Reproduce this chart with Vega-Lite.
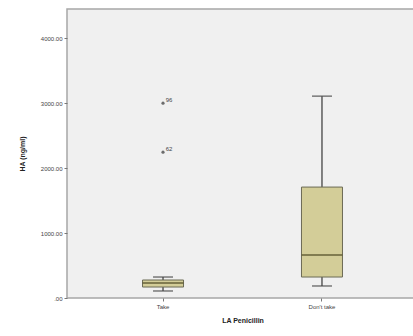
{
  "$schema": "https://vega.github.io/schema/vega-lite/v6.json",
  "autosize": "none",
  "width": 351,
  "height": 289,
  "padding": {"left": 67, "top": 9, "right": 0, "bottom": 38},
  "background": "#ffffff",
  "config": {
    "view": {"fill": "#f0f0f0", "stroke": "#a6a6a6", "strokeWidth": 1.5},
    "font": "Liberation Sans",
    "axis": {"labelFontSize": 6, "labelColor": "#444", "titleFontSize": 7, "titleFontWeight": "bold", "titleColor": "#222222", "tickColor": "#777", "tickSize": 3, "domain": false, "grid": false}
  },
  "datasets": {
    "boxes": [
      {"group": "Take", "lower": 108, "q1": 169, "median": 231, "q3": 277, "upper": 323},
      {"group": "Don't take", "lower": 185, "q1": 323, "median": 662, "q3": 1708, "upper": 3108}
    ],
    "outliers": [
      {"group": "Take", "value": 3000, "label": "96"},
      {"group": "Take", "value": 2246, "label": "62"}
    ]
  },
  "encoding": {
    "x": {
      "field": "group", "type": "nominal", "sort": ["Take", "Don't take"],
      "scale": {"type": "band", "paddingInner": 0, "paddingOuter": 0.104},
      "axis": {"title": "LA Penicillin", "labelAngle": 0, "labelPadding": 2, "titlePadding": 7, "titleAnchor": "middle"}
    }
  },
  "layer": [
    {
      "data": {"name": "boxes"},
      "mark": {"type": "rule", "color": "#444", "strokeWidth": 1.3},
      "encoding": {
        "y": {"field": "lower", "type": "quantitative", "scale": {"domain": [0, 4450], "nice": false},
          "axis": {"title": "HA (ng/ml)", "values": [0, 1000, 2000, 3000, 4000], "labelExpr": "datum.value == 0 ? '.00' : format(datum.value, '.2f')", "titlePadding": 15}},
        "y2": {"field": "upper"}
      }
    },
    {
      "data": {"name": "boxes"},
      "mark": {"type": "bar", "size": 41, "fill": "#d3cd98", "stroke": "#6b6a55", "strokeWidth": 1},
      "encoding": {
        "y": {"field": "q1", "type": "quantitative"},
        "y2": {"field": "q3"}
      }
    },
    {
      "data": {"name": "boxes"},
      "mark": {"type": "tick", "size": 41, "thickness": 2, "color": "#5e5a32"},
      "encoding": {"y": {"field": "median", "type": "quantitative"}}
    },
    {
      "data": {"name": "boxes"},
      "mark": {"type": "tick", "size": 20, "thickness": 1.5, "color": "#444"},
      "encoding": {"y": {"field": "lower", "type": "quantitative"}}
    },
    {
      "data": {"name": "boxes"},
      "mark": {"type": "tick", "size": 20, "thickness": 1.5, "color": "#444"},
      "encoding": {"y": {"field": "upper", "type": "quantitative"}}
    },
    {
      "data": {"name": "outliers"},
      "mark": {"type": "point", "shape": "circle", "filled": true, "size": 10, "color": "#333"},
      "encoding": {"y": {"field": "value", "type": "quantitative"}}
    },
    {
      "data": {"name": "outliers"},
      "mark": {"type": "text", "fontSize": 6, "dx": 6, "dy": -3, "color": "#444"},
      "encoding": {"y": {"field": "value", "type": "quantitative"}, "text": {"field": "label"}}
    }
  ]
}
